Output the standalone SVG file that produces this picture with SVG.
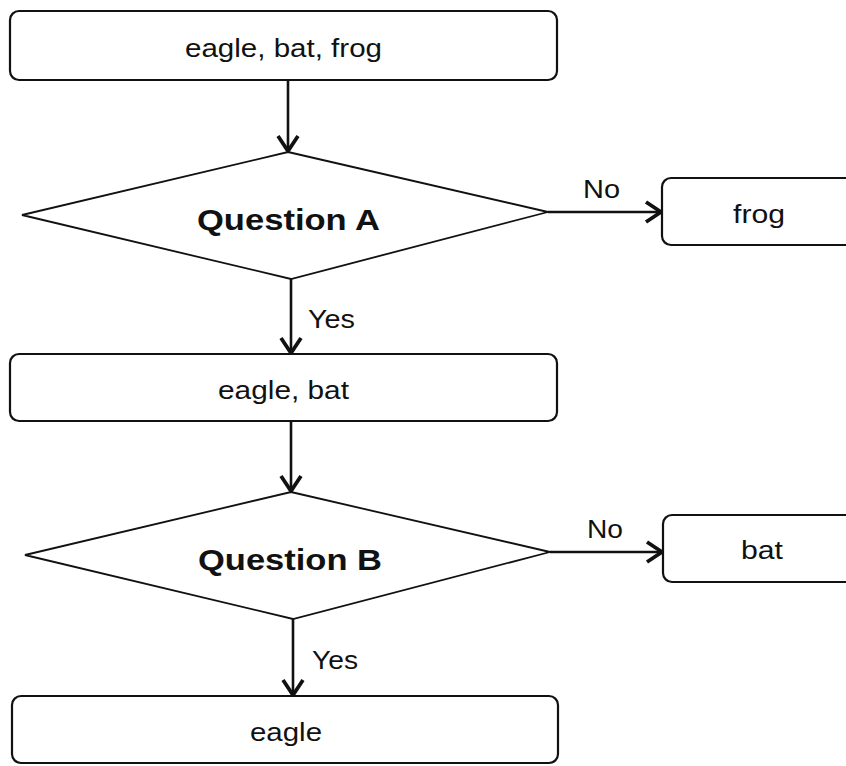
<svg xmlns="http://www.w3.org/2000/svg" width="846" height="766" viewBox="0 0 846 766">
<defs>
<style>
.box{fill:#fff;stroke:#111;stroke-width:2.2}
.dia{fill:#fff;stroke:#111;stroke-width:1.8}
.t{font-family:"Liberation Sans",Arial,sans-serif;font-size:26px;fill:#111;text-anchor:middle}
.q{font-family:"Liberation Sans",Arial,sans-serif;font-size:30px;font-weight:bold;fill:#111;text-anchor:middle}
.lbl{font-family:"Liberation Sans",Arial,sans-serif;font-size:26px;fill:#111}
.conn{fill:none;stroke:#111;stroke-width:2.6}
</style>
<marker id="arr" markerUnits="userSpaceOnUse" markerWidth="30" markerHeight="30" viewBox="-16 -12 20 24" refX="0" refY="0" orient="auto">
<path d="M-12,-8 L0,0 L-12,8" fill="none" stroke="#111" stroke-width="3" stroke-linejoin="miter"/>
</marker>
</defs>
<rect width="846" height="766" fill="#fff"/>
<g id="connectors">
<line class="conn" x1="288" y1="80" x2="288" y2="151" marker-end="url(#arr)"/>
<line class="conn" x1="548" y1="212" x2="661" y2="212" marker-end="url(#arr)"/>
<line class="conn" x1="291" y1="279" x2="291" y2="353" marker-end="url(#arr)"/>
<line class="conn" x1="291" y1="421" x2="291" y2="491" marker-end="url(#arr)"/>
<line class="conn" x1="550" y1="552" x2="662" y2="552" marker-end="url(#arr)"/>
<line class="conn" x1="293" y1="619" x2="293" y2="695" marker-end="url(#arr)"/>
<text class="lbl" x="583" y="198" textLength="37" lengthAdjust="spacingAndGlyphs">No</text>
<text class="lbl" x="308" y="328" textLength="47" lengthAdjust="spacingAndGlyphs">Yes</text>
<text class="lbl" x="587" y="538" textLength="36" lengthAdjust="spacingAndGlyphs">No</text>
<text class="lbl" x="312" y="669" textLength="46" lengthAdjust="spacingAndGlyphs">Yes</text>
</g>
<g id="node-start">
<rect class="box" x="10" y="11" width="547" height="69" rx="9"/>
<text class="t" x="283.5" y="57" textLength="197" lengthAdjust="spacingAndGlyphs">eagle, bat, frog</text>
</g>
<g id="node-questionA">
<polygon class="dia" points="288,152 548,212 291,279 22,215"/>
<text class="q" x="288.5" y="230" textLength="183" lengthAdjust="spacingAndGlyphs">Question A</text>
</g>
<g id="node-frog">
<rect class="box" x="662" y="178" width="210" height="67" rx="9"/>
<text class="t" x="759" y="223" textLength="52" lengthAdjust="spacingAndGlyphs">frog</text>
</g>
<g id="node-eaglebat">
<rect class="box" x="10" y="354" width="547" height="67" rx="9"/>
<text class="t" x="283.5" y="399" textLength="131" lengthAdjust="spacingAndGlyphs">eagle, bat</text>
</g>
<g id="node-questionB">
<polygon class="dia" points="291,492 550,552 293,619 25,555"/>
<text class="q" x="290" y="570" textLength="184" lengthAdjust="spacingAndGlyphs">Question B</text>
</g>
<g id="node-bat">
<rect class="box" x="663" y="515" width="210" height="67" rx="9"/>
<text class="t" x="762" y="559" textLength="42" lengthAdjust="spacingAndGlyphs">bat</text>
</g>
<g id="node-eagle">
<rect class="box" x="12" y="696" width="546" height="67" rx="9"/>
<text class="t" x="286" y="741" textLength="72" lengthAdjust="spacingAndGlyphs">eagle</text>
</g>
</svg>
